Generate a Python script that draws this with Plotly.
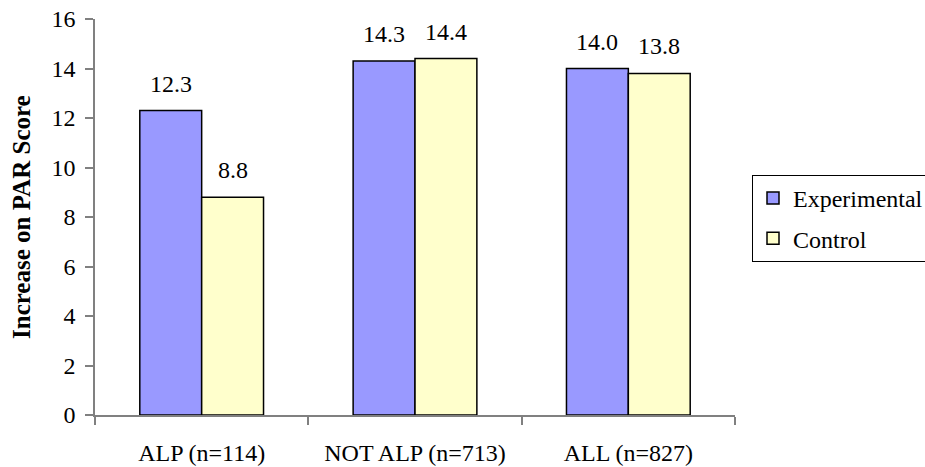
import plotly.graph_objects as go

categories = ["ALP (n=114)", "NOT ALP (n=713)", "ALL (n=827)"]
experimental = [12.3, 14.3, 14.0]
control = [8.8, 14.4, 13.8]
series_names = ["Experimental", "Control"]
y_ticks = [0, 2, 4, 6, 8, 10, 12, 14, 16]

FONT = "Liberation Serif"
W, H = 925, 467
L, T = 95, 19
R = W - 735
B = H - 415
FS = 24

fig = go.Figure()
fig.add_trace(go.Bar(name=series_names[0], x=categories, y=experimental,
                     marker=dict(color="#9999FF", line=dict(color="black", width=1.5)),
                     legendgroup="a"))
fig.add_trace(go.Bar(name=series_names[1], x=categories, y=control,
                     marker=dict(color="#FFFFCC", line=dict(color="black", width=1.5)),
                     legendgroup="b"))

plot_w = W - L - R
plot_h = H - T - B
bar_px = plot_w / len(categories) * (1 - 0.42) / 2
for vals, sign in ((experimental, -1), (control, 1)):
    for c, v in zip(categories, vals):
        fig.add_annotation(x=c, y=v, xref="x", yref="y", text=f"{v:.1f}",
                           showarrow=False, xshift=sign * bar_px / 2, yshift=27,
                           yanchor="middle", font=dict(family=FONT, size=FS, color="black"))

fig.add_annotation(text="<b>Increase on PAR Score</b>", textangle=-90,
                   xref="paper", yref="paper", x=(21 - L) / plot_w, y=0.5,
                   xanchor="center", yanchor="middle", showarrow=False,
                   font=dict(family=FONT, size=25, color="black"))

fig.update_layout(
    width=W, height=H,
    margin=dict(l=L, r=R, t=T, b=B, autoexpand=False),
    paper_bgcolor="white", plot_bgcolor="white",
    font=dict(family=FONT, size=FS, color="black"),
    barmode="group", bargap=0.42, bargroupgap=0,
    showlegend=True,
    legend=dict(x=(752 - L) / plot_w, xanchor="left", y=(415 - 175) / plot_h, yanchor="top",
                bordercolor="black", borderwidth=1, bgcolor="white",
                font=dict(family=FONT, size=FS, color="black"),
                tracegroupgap=6, traceorder="grouped"),
    xaxis=dict(showline=True, linecolor="#808080", linewidth=1.5,
               ticks="outside", tickson="boundaries", ticklen=8, tickcolor="#808080",
               tickwidth=1.5, showgrid=False, ticklabelstandoff=15,
               tickfont=dict(family=FONT, size=FS, color="black")),
    yaxis=dict(range=[0, 16], tickvals=y_ticks, showline=True, linecolor="#808080",
               linewidth=1.5, ticks="outside", ticklen=8, tickcolor="#808080", tickwidth=1.5,
               showgrid=False, zeroline=False, ticklabelstandoff=5, ticklabeloverflow="allow",
               tickfont=dict(family=FONT, size=FS, color="black")),
)

# remove the page's default body margin so the figure fills the 925x467 window exactly
fig.write_html("out.html", config={"displayModeBar": False},
               post_script="document.body.style.margin='0';")
